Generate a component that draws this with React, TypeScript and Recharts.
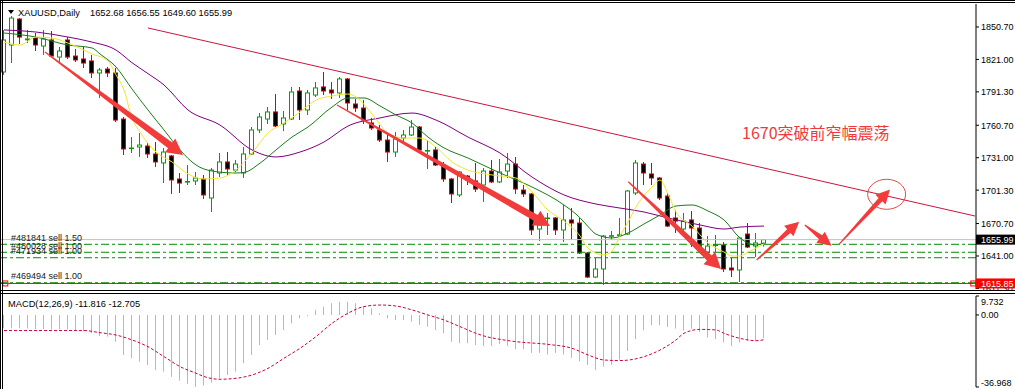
import React from 'react';
import { ComposedChart, Bar, Line, XAxis, YAxis, ReferenceLine, ReferenceDot } from 'recharts';

// ---------- data ----------
const openP = [
  1809.5, 1834.2, 1858.0, 1839.0, 1840.6, 1833.3, 1838.8, 1823.2, 1838.8, 1824.1,
  1821.4, 1819.6, 1808.6, 1812.2, 1808.6, 1766.4, 1739.5, 1740.8, 1741.7, 1734.4,
  1726.2, 1732.6, 1711.5, 1708.8, 1709.7, 1711.5, 1694.1, 1717.0, 1727.1, 1719.7,
  1717.0, 1734.4, 1756.4, 1766.4, 1772.9, 1761.9, 1766.4, 1792.1, 1774.7, 1788.4,
  1795.8, 1793.0, 1790.3, 1803.1, 1780.2, 1776.5, 1762.8, 1756.4, 1747.2, 1736.2,
  1749.0, 1751.8, 1759.1, 1737.1, 1738.1, 1724.3, 1711.5, 1696.9, 1714.2, 1709.7,
  1706.0, 1718.8, 1708.8, 1718.8, 1725.2, 1701.4, 1697.8, 1665.7, 1675.5, 1675.8,
  1664.8, 1674.0, 1671.2, 1643.7, 1621.7, 1629.1, 1659.3, 1660.0, 1661.1, 1698.7,
  1725.2, 1716.1, 1712.4, 1695.9, 1675.8, 1665.7, 1674.0, 1666.6, 1644.6, 1650.6,
  1651.1, 1630.0, 1628.2, 1661.1, 1650.1, 1652.68,
];
const highP = [
  1848.0, 1860.8, 1858.9, 1848.0, 1845.2, 1848.0, 1847.0, 1832.4, 1841.5, 1830.6,
  1832.4, 1825.1, 1813.2, 1814.1, 1813.2, 1768.3, 1749.9, 1753.6, 1744.5, 1745.4,
  1739.9, 1733.5, 1717.0, 1724.3, 1717.9, 1715.2, 1721.6, 1735.3, 1736.2, 1728.9,
  1740.8, 1759.1, 1771.9, 1777.4, 1789.3, 1773.8, 1795.8, 1795.8, 1793.0, 1800.3,
  1809.5, 1800.3, 1804.9, 1804.0, 1784.8, 1783.8, 1767.4, 1760.9, 1753.6, 1754.5,
  1756.4, 1765.5, 1760.0, 1747.2, 1740.8, 1727.1, 1712.4, 1718.5, 1715.2, 1726.2,
  1721.6, 1728.9, 1729.8, 1735.3, 1731.7, 1706.0, 1698.7, 1671.2, 1680.4, 1676.7,
  1687.7, 1684.9, 1675.8, 1644.6, 1639.2, 1660.2, 1663.9, 1675.8, 1701.4, 1728.9,
  1727.1, 1726.2, 1713.3, 1698.7, 1683.1, 1680.4, 1682.2, 1671.2, 1659.3, 1660.2,
  1653.8, 1639.2, 1658.4, 1671.2, 1662.0, 1656.55,
];
const lowP = [
  1806.8, 1817.7, 1835.1, 1836.0, 1828.7, 1825.1, 1823.2, 1817.7, 1821.4, 1818.7,
  1813.2, 1804.0, 1785.7, 1804.9, 1763.7, 1733.5, 1735.3, 1731.7, 1730.7, 1722.5,
  1707.8, 1697.8, 1698.7, 1706.0, 1706.0, 1693.2, 1681.3, 1713.3, 1715.2, 1717.9,
  1712.4, 1733.5, 1753.6, 1761.9, 1759.1, 1755.4, 1765.5, 1765.5, 1770.1, 1786.6,
  1788.4, 1784.8, 1785.7, 1774.7, 1772.9, 1761.9, 1756.4, 1745.4, 1727.1, 1731.7,
  1745.4, 1750.9, 1737.1, 1720.7, 1723.4, 1708.8, 1689.5, 1695.0, 1706.0, 1699.6,
  1690.4, 1707.8, 1707.8, 1712.4, 1697.8, 1695.0, 1660.2, 1654.7, 1660.2, 1660.2,
  1653.8, 1655.6, 1642.8, 1620.8, 1620.8, 1614.4, 1655.6, 1658.4, 1660.2, 1696.9,
  1706.0, 1706.0, 1692.3, 1667.5, 1662.0, 1662.9, 1649.2, 1644.6, 1643.7, 1644.6,
  1626.3, 1621.7, 1617.2, 1648.3, 1640.1, 1649.60,
];
const closeP = [
  1838.8, 1858.9, 1841.5, 1839.7, 1834.2, 1839.7, 1824.1, 1828.7, 1823.2, 1820.5,
  1817.7, 1808.6, 1811.3, 1808.6, 1765.5, 1739.0, 1739.9, 1742.6, 1734.4, 1727.1,
  1736.2, 1710.6, 1707.8, 1709.2, 1712.4, 1696.9, 1719.7, 1727.1, 1720.7, 1725.2,
  1734.4, 1756.4, 1768.3, 1772.9, 1760.0, 1767.4, 1791.2, 1774.7, 1790.3, 1794.9,
  1792.1, 1790.3, 1803.1, 1781.1, 1776.5, 1765.5, 1758.2, 1747.2, 1736.2, 1748.1,
  1751.8, 1759.1, 1738.1, 1737.6, 1724.3, 1711.5, 1697.8, 1717.9, 1710.6, 1702.3,
  1718.8, 1708.8, 1717.9, 1725.2, 1702.3, 1697.8, 1664.8, 1669.4, 1675.8, 1664.8,
  1674.0, 1671.2, 1643.7, 1621.7, 1629.1, 1659.3, 1659.6, 1660.4, 1700.5, 1726.2,
  1717.0, 1712.4, 1694.1, 1668.4, 1673.0, 1673.0, 1666.6, 1649.2, 1650.1, 1651.1,
  1629.1, 1628.2, 1657.5, 1649.2, 1652.9, 1655.99,
];

// moving averages read at points along each curve: [bar index, price]
const maFast = [
  [0, 1837.0], [2, 1834.2], [4, 1841.5], [6, 1840.6], [8, 1836.0], [11, 1826.0], [13, 1819.6],
  [14, 1806.8], [15, 1793.0], [16, 1767.4], [17, 1754.5], [19, 1736.2], [21, 1727.1], [23, 1716.1],
  [25, 1711.5], [27, 1712.4], [29, 1719.7], [31, 1735.3], [33, 1753.6], [35, 1762.8], [37, 1772.9],
  [39, 1783.8], [41, 1787.5], [43, 1789.3], [44, 1786.6], [46, 1771.0], [48, 1753.6], [50, 1749.0],
  [52, 1749.0], [54, 1740.8], [56, 1727.1], [58, 1719.7], [61, 1715.2], [64, 1712.4], [66, 1699.6],
  [68, 1683.1], [70, 1673.0], [72, 1659.3], [73, 1648.3], [75, 1641.9], [76, 1645.6], [77, 1659.3],
  [78, 1672.1], [79, 1685.8], [81, 1704.2], [82, 1710.6], [83, 1697.8], [84, 1681.3], [86, 1668.4],
  [88, 1652.9], [90, 1644.6], [91, 1641.0], [92, 1641.0], [93, 1644.6], [95, 1652.0],
];
const maMid = [
  [0, 1845.2], [4, 1841.5], [8, 1834.2], [11, 1831.5], [12, 1826.0], [14, 1814.1], [16, 1793.9],
  [18, 1774.7], [20, 1756.4], [22, 1738.1], [24, 1724.3], [26, 1718.8], [29, 1717.0], [30, 1717.5],
  [32, 1726.0], [34, 1738.1], [36, 1749.9], [38, 1759.1], [41, 1777.4], [43, 1785.7], [45, 1785.7],
  [47, 1778.4], [49, 1770.1], [51, 1762.8], [53, 1749.9], [55, 1740.0], [58, 1730.7], [62, 1717.0],
  [66, 1704.2], [70, 1687.7], [72, 1676.0], [73, 1668.0], [74, 1661.0], [76, 1657.5], [78, 1662.0],
  [80, 1670.3], [82, 1678.5], [84, 1686.8], [86, 1687.7], [88, 1682.2], [90, 1674.0], [92, 1657.5],
  [94, 1651.1], [95, 1652.9],
];
const maSlow = [
  [0, 1848.0], [4, 1846.1], [8, 1841.5], [11, 1836.9], [14, 1829.6], [16, 1818.0], [18, 1808.0],
  [20, 1797.6], [23, 1774.7], [27, 1760.9], [31, 1738.1], [34, 1731.7], [37, 1736.2], [40, 1745.4],
  [43, 1760.0], [47, 1767.4], [51, 1771.9], [54, 1765.5], [58, 1749.9], [62, 1735.3], [66, 1713.3],
  [70, 1696.9], [74, 1688.6], [77, 1684.9], [80, 1681.3], [83, 1675.8], [87, 1669.4], [90, 1665.7],
  [92, 1667.5], [95, 1668.4],
];

// MACD histogram (main) per bar and signal line points
const macdHist = [
  -6.8, -6.8, -6.8, -6.9, -7.3, -7.3, -7.4, -7.4, -7.4, -7.7,
  -8.5, -9.4, -10.8, -11.1, -13.7, -20.5, -22.2, -24.0, -25.7, -28.2,
  -29.1, -31.7, -33.7, -35.3, -36.9, -36.2, -34.7, -32.5, -30.8, -29.1,
  -24.8, -20.5, -15.4, -12.8, -10.3, -7.7, -4.3, -1.7, -0.5, 2.6,
  4.3, 6.0, 6.8, 6.8, 6.0, 4.3, 3.4, 0.9, -1.7, -2.6,
  -2.6, -3.4, -5.1, -6.0, -7.7, -9.4, -13.7, -14.5, -14.5, -15.4,
  -15.9, -15.9, -15.0, -15.9, -17.6, -17.6, -19.4, -19.4, -20.3, -19.4,
  -20.3, -22.0, -23.8, -25.6, -28.2, -26.5, -25.6, -22.9, -18.5, -12.4,
  -7.9, -5.3, -5.3, -6.2, -7.0, -7.9, -7.0, -8.8, -11.5, -12.4,
  -14.1, -15.9, -14.1, -13.2, -13.2, -11.816,
];
const macdSignal = [
  [0, -8.0], [10, -8.0], [12, -9.1], [14, -10.3], [16, -12.8], [18, -16.3], [20, -21.4], [22, -26.5],
  [24, -29.9], [25, -31.6], [27, -33.0], [29, -32.5], [31, -30.8], [33, -27.4], [35, -22.2], [37, -17.1],
  [39, -11.1], [41, -4.3], [43, 0.9], [45, 4.3], [47, 5.1], [49, 4.6], [51, 2.6], [53, 0.0], [55, -2.6],
  [57, -6.0], [59, -9.4], [60, -10.8], [62, -12.5], [64, -13.7], [68, -15.1], [71, -17.1], [73, -20.5],
  [75, -23.1], [77, -23.4], [80, -21.4], [82, -18.0], [84, -12.8], [85, -9.4], [87, -7.4], [89, -7.7],
  [90, -9.4], [92, -12.0], [94, -13.2], [95, -12.705],
];

const priceTicks = [1611.3, 1641.0, 1670.7, 1701.3, 1731.0, 1760.7, 1791.3, 1821.0, 1850.7];
const bidPrice = 1655.99;
const stopPrice = 1615.85;
const macdTicks = [9.732, 0, -36.968];

const orderTickets = ['#481841 sell 1.50', '#480028 sell 1.00', '#471934 sell 1.00', '#469494 sell 1.00'];
const orderPrices = [1651.7, 1644.4, 1639.4, 1616.5];

// annotations (bar index, price)
const trendFrom = { x: 18, y: 1849.8 };
const trendTo = { x: 121.375, y: 1677.6 };
const arrowFromX = [5.125, 41.625, 78.04, 94.08, 100.1, 104.4];
const arrowFromY = [1827.8, 1779.3, 1709.0, 1637.3, 1669.4, 1651.9];
const arrowToX = [22.375, 68.25, 89.625, 99.4, 103.46, 110.75];
const arrowToY = [1733.5, 1668.5, 1629.1, 1672.4, 1650.4, 1702.0];
const circleAt = { x: 110.33, y: 1697.5 };
const noteText = '1670突破前窄幅震荡';
const noteAt = { x: 92.25, y: 1754.5 };
const orderLabelX = 0.875;

const symbolTitle = 'XAUUSD,Daily';
const ohlcText = '1652.68 1656.55 1649.60 1655.99';
const macdTitle = 'MACD(12,26,9) -11.816 -12.705';

const TOTAL_SLOTS = 122;

// ---------- table built from arrays ----------
const toMap = (pts: number[][]) => new Map(pts.map(([k, v]) => [k, v]));
const fastMap = toMap(maFast);
const midMap = toMap(maMid);
const slowMap = toMap(maSlow);
const sigMap = toMap(macdSignal);

const rows = Array.from({ length: TOTAL_SLOTS }, (_, i) =>
  i < openP.length
    ? {
        i,
        o: openP[i],
        h: highP[i],
        l: lowP[i],
        c: closeP[i],
        range: [lowP[i], highP[i]],
        fast: fastMap.has(i) ? fastMap.get(i) : null,
        mid: midMap.has(i) ? midMap.get(i) : null,
        slow: slowMap.has(i) ? slowMap.get(i) : null,
        hist: macdHist[i],
        sig: sigMap.has(i) ? sigMap.get(i) : null,
      }
    : { i }
);

const FONT = '"Liberation Sans", Arial, sans-serif';
const UP = '#00a000';
const DOWN = '#e00000';
const ARROW = '#f23c3c';

const Candle = (props: any) => {
  const { x, y, width, height, payload } = props;
  if (!payload || payload.o == null) return null;
  const { o, h, l, c } = payload;
  const top = height >= 0 ? y : y + height;
  const hh = Math.abs(height);
  const cx = Math.round(x + width / 2);
  const py = (p: number) => (h === l ? top : top + ((h - p) / (h - l)) * hh);
  const up = c >= o;
  const col = up ? UP : DOWN;
  const bTop = py(Math.max(o, c));
  const bBot = py(Math.min(o, c));
  const bh = Math.max(bBot - bTop, 0.6);
  return (
    <g>
      <line x1={cx - 0.5} x2={cx - 0.5} y1={top} y2={top + hh} stroke={col} strokeWidth={1} />
      <rect x={cx - 2.5} y={bTop} width={4} height={bh} fill={up ? '#ffffff' : '#000000'} stroke={col} strokeWidth={1} />
    </g>
  );
};

const HistBar = (props: any) => {
  const { x, y, width, height, payload } = props;
  if (!payload || payload.hist == null) return null;
  const cx = Math.round(x + width / 2);
  const top = height >= 0 ? y : y + height;
  return <rect x={cx - 1} y={top} width={1} height={Math.abs(height)} fill="#b8b8b8" />;
};

const makeArrow = (head: number, headW: number, shaftW: number) => (p: any) => {
  const { x1, y1, x2, y2 } = p;
  const dx = x2 - x1;
  const dy = y2 - y1;
  const L = Math.hypot(dx, dy) || 1;
  const ux = dx / L;
  const uy = dy / L;
  const nx = -uy;
  const ny = ux;
  const bx = x2 - ux * head;
  const by = y2 - uy * head;
  const pts = [
    [x1 + nx * 0.6, y1 + ny * 0.6],
    [bx + nx * shaftW, by + ny * shaftW],
    [bx + nx * headW, by + ny * headW],
    [x2, y2],
    [bx - nx * headW, by - ny * headW],
    [bx - nx * shaftW, by - ny * shaftW],
    [x1 - nx * 0.6, y1 - ny * 0.6],
  ];
  return <polygon points={pts.map((q) => q.join(',')).join(' ')} fill={ARROW} />;
};
const bigArrow = makeArrow(16, 8.5, 3.5);
const smallArrow = makeArrow(14, 7, 2.5);

const PriceTick = (p: any) => {
  const v = p.payload.value as number;
  const x = p.x as number;
  const y = p.y as number;
  let bg: string | null = null;
  if (v === bidPrice) bg = '#000000';
  if (v === stopPrice) bg = '#ff0000';
  return (
    <g>
      {bg && <rect x={x - 5} y={y - 5} width={45} height={10} fill={bg} />}
      <text x={x} y={y + 3.5} fill={bg ? '#ffffff' : '#000000'} fontSize={9} fontFamily={FONT}>
        {v.toFixed(2)}
      </text>
    </g>
  );
};

const MacdTick = (p: any) => {
  const v = p.payload.value as number;
  let y = p.y as number;
  if (v > 0) y += 5;
  if (v < 0) y -= 5;
  return (
    <text x={p.x} y={y + 3.5} fill="#000000" fontSize={9} fontFamily={FONT}>
      {v === 0 ? '0.00' : String(v)}
    </text>
  );
};

export default function App() {
  return (
    <div style={{ position: 'absolute', left: 0, top: 0, width: 1015, height: 389, background: '#ffffff', overflow: 'hidden' }}>
      <div style={{ position: 'absolute', left: 0, top: 0 }}>
        <ComposedChart width={1015} height={291} data={rows} margin={{ top: 4, right: 0, bottom: 2, left: 0 }} barCategoryGap={0} barGap={0}>
          <XAxis dataKey="i" type="category" hide />
          <XAxis xAxisId="n" dataKey="i" type="number" hide domain={[-0.5, 121.5]} allowDataOverflow />
          <YAxis
            orientation="right"
            width={39}
            domain={[1610.77, 1871.76]}
            allowDataOverflow
            ticks={[...priceTicks, bidPrice, stopPrice]}
            interval={0}
            tickSize={3}
            tickMargin={2}
            axisLine={{ stroke: '#000000' }}
            tickLine={{ stroke: '#000000' }}
            tick={PriceTick}
          />
          <ReferenceLine y={bidPrice} stroke="#c0c0c0" strokeWidth={1} />
          {orderPrices.map((p, k) => (
            <ReferenceLine key={'ol' + k} y={p} stroke="#008c00" strokeWidth={1} strokeDasharray="8 3 3 3" />
          ))}
          <ReferenceLine y={stopPrice} stroke="#ff0000" strokeWidth={1} />
          <Bar dataKey="range" shape={Candle} isAnimationActive={false} />
          <Line dataKey="slow" type="monotone" stroke="#800080" strokeWidth={1} dot={false} activeDot={false} connectNulls isAnimationActive={false} />
          <Line dataKey="mid" type="monotone" stroke="#1c7c1c" strokeWidth={1} dot={false} activeDot={false} connectNulls isAnimationActive={false} />
          <Line dataKey="fast" type="monotone" stroke="#f0e630" strokeWidth={1} dot={false} activeDot={false} connectNulls isAnimationActive={false} />
          {orderTickets.map((t, k) => (
            <ReferenceDot
              key={'lab' + k}
              xAxisId="n"
              x={orderLabelX}
              y={orderPrices[k]}
              shape={(p: any) => (
                <text x={p.cx} y={p.cy - 3.5} fontSize={9} fontFamily={FONT} fill="#202020">
                  {t}
                </text>
              )}
            />
          ))}
          <ReferenceDot xAxisId="n" x={0.1} y={stopPrice} shape={(p: any) => <rect x={p.cx - 2} y={p.cy - 2.5} width={5} height={5} fill="none" stroke="#ff0000" strokeWidth={1} />} />
          <ReferenceDot xAxisId="n" x={121.1} y={stopPrice} shape={(p: any) => <rect x={p.cx - 2} y={p.cy - 2.5} width={5} height={5} fill="none" stroke="#ff0000" strokeWidth={1} />} />
          <ReferenceLine xAxisId="n" segment={[trendFrom, trendTo]} stroke="#cc1440" strokeWidth={1} />
          {arrowFromX.map((fx, k) => (
            <ReferenceLine
              key={'ar' + k}
              xAxisId="n"
              segment={[{ x: fx, y: arrowFromY[k] }, { x: arrowToX[k], y: arrowToY[k] }]}
              shape={k < 3 ? bigArrow : smallArrow}
              zIndex={2500}
            />
          ))}
          <ReferenceDot
            xAxisId="n"
            x={circleAt.x}
            y={circleAt.y}
            zIndex={2500}
            shape={(p: any) => <ellipse cx={p.cx} cy={p.cy} rx={19} ry={15} fill="none" stroke="#e04a4a" strokeWidth={1} />}
          />
          <ReferenceDot
            xAxisId="n"
            x={noteAt.x}
            y={noteAt.y}
            zIndex={2500}
            shape={(p: any) => (
              <text x={p.cx} y={p.cy} dominantBaseline="central" fontSize={16} fontFamily='"Noto Sans CJK SC", sans-serif' fill="#ee3a3a">
                {noteText}
              </text>
            )}
          />
        </ComposedChart>
      </div>
      <div style={{ position: 'absolute', left: 0, top: 291 }}>
        <ComposedChart width={1015} height={98} data={rows} margin={{ top: 5, right: 0, bottom: 2, left: 0 }} barCategoryGap={0} barGap={0}>
          <XAxis dataKey="i" type="category" hide />
          <YAxis
            orientation="right"
            width={39}
            domain={[-36.968, 9.732]}
            allowDataOverflow
            ticks={macdTicks}
            interval={0}
            tickSize={3}
            tickMargin={2}
            axisLine={{ stroke: '#000000' }}
            tickLine={{ stroke: '#000000' }}
            tick={MacdTick}
          />
          <Bar dataKey="hist" shape={HistBar} isAnimationActive={false} />
          <Line dataKey="sig" type="monotone" stroke="#d0003c" strokeWidth={1} strokeDasharray="3 2" dot={false} activeDot={false} connectNulls isAnimationActive={false} />
        </ComposedChart>
      </div>
      <svg width={1015} height={389} style={{ position: 'absolute', left: 0, top: 0, pointerEvents: 'none' }}>
        <line x1={0} x2={1015} y1={0.5} y2={0.5} stroke="#000" />
        <line x1={0} x2={1015} y1={2.5} y2={2.5} stroke="#000" />
        <line x1={0.5} x2={0.5} y1={0} y2={389} stroke="#000" />
        <line x1={2.5} x2={2.5} y1={0} y2={389} stroke="#000" />
        <line x1={0} x2={1015} y1={290.5} y2={290.5} stroke="#000" />
        <line x1={0} x2={1015} y1={293.5} y2={293.5} stroke="#000" />
        <polygon points="8,10 14,10 11,14" fill="#000" />
        <text x={18} y={16} fontSize={9.3} fontFamily={FONT} fill="#000">{symbolTitle}</text>
        <text x={90} y={16} fontSize={9.3} fontFamily={FONT} fill="#000">{ohlcText}</text>
        <text x={8} y={307} fontSize={9.3} fontFamily={FONT} fill="#000">{macdTitle}</text>
      </svg>
    </div>
  );
}
